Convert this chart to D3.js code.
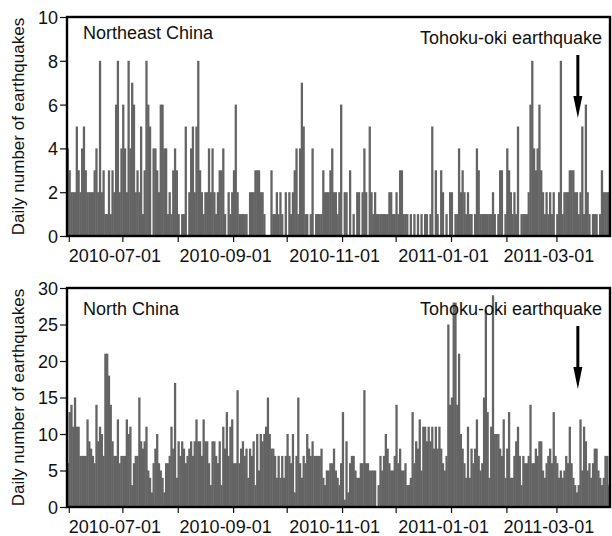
<!DOCTYPE html>
<html>
<head>
<meta charset="utf-8">
<script src="https://cdn.jsdelivr.net/npm/d3@7"></script>
<style>
body { margin: 0; background: #fff; }
text { font-family: "Liberation Sans", Arial, sans-serif; fill: #111; }
</style>
</head>
<body>
<svg id="chart" width="612" height="536"></svg>
<script>
// first day of the daily series, one value per day
var startDate = new Date(2010, 4, 31);
var endDate = new Date(2011, 2, 31);
var quakeDate = new Date(2011, 2, 13);

var neTicks = [0, 2, 4, 6, 8, 10];
var nTicks = [0, 5, 10, 15, 20, 25, 30];

var neChina = [
    4,3,2,2,2,5,3,2,4,5, 3,2,2,2,2,3,4,2,8,2, 3,1,1,3,1,3,2,6,8,2,
    4,6,4,2,8,4,7,6,2,3, 2,5,1,3,8,6,5,0,4,4, 3,2,6,6,4,4,1,2,1,3,
    4,3,1,0,1,1,5,0,2,4, 5,2,5,8,3,2,1,2,2,4, 2,4,2,1,2,3,3,4,1,0,
    2,1,2,3,6,2,1,1,1,1, 1,0,2,2,2,3,3,3,2,2, 1,0,0,0,3,1,1,2,1,2,
    1,0,2,0,2,1,2,3,4,1, 4,7,5,1,1,0,1,4,0,1, 1,1,1,3,2,2,2,3,4,2,
    2,1,2,6,0,2,2,0,3,0, 1,0,2,2,0,2,4,2,0,5, 2,1,2,1,1,1,1,1,1,1,
    2,2,1,1,2,1,3,3,1,1, 1,0,1,0,1,0,1,0,1,0, 1,1,0,1,5,0,3,1,0,3,
    2,0,1,0,2,2,0,1,1,4, 2,3,2,1,2,1,1,0,1,4, 3,1,1,1,1,1,1,1,2,1,
    0,1,3,3,0,1,4,3,2,1, 2,1,5,0,1,1,1,1,2,6, 8,4,3,4,6,3,2,1,2,1,
    2,1,2,0,1,2,8,1,2,2, 2,3,3,3,2,2,1,2,5,1, 6,2,1,0,1,1,1,0,1,3,
    2,2,2,2
];

var nChina = [
    6,13,14,11,15,11,11,7,7,7, 7,12,9,8,7,6,14,9,11,10, 7,21,21,18,14,9,7,7,12,6,
    7,7,7,12,10,11,3,6,7,7, 15,9,8,9,11,5,4,2,6,8, 10,6,5,4,2,6,6,7,11,8,
    17,4,9,7,9,8,6,7,8,9, 7,9,12,9,9,7,12,9,9,6, 3,9,9,7,6,9,3,11,8,13,
    7,11,12,6,6,16,6,8,9,7, 8,4,8,7,9,3,10,5,10,9, 10,11,15,10,8,8,7,4,7,4,
    7,4,7,10,7,6,10,2,7,15, 6,4,7,6,10,8,7,9,7,7, 7,7,8,4,3,5,5,6,6,8,
    5,4,3,6,13,1,9,2,6,7, 7,5,4,4,6,6,16,6,6,5, 5,5,5,0,3,7,5,7,10,8,
    6,5,5,7,14,6,8,5,5,6, 3,3,4,13,6,9,8,12,5,11, 11,9,11,9,11,8,11,8,11,8,
    6,5,7,25,14,15,28,28,14,21, 10,8,6,4,11,4,8,6,8,12, 7,5,6,15,27,13,4,11,29,10,
    10,10,8,7,12,4,8,13,4,4, 7,9,11,7,3,7,6,6,7,14, 6,6,8,7,9,9,5,4,6,7,
    8,6,13,7,6,4,5,4,5,7, 6,11,6,4,3,2,3,12,5,11, 9,5,6,4,6,8,8,5,4,3,
    4,7,7,3
];

var svg = d3.select("#chart");
var left = 67, right = 610, plotH = 219;
var fmt = d3.timeFormat("%Y-%m-%d");

var x = d3.scaleTime().domain([startDate, endDate]).range([left, right]);

var panels = [
    { title: "Northeast China", values: neChina, ticks: neTicks, top: 17, titleY: 22, quakeY: 27 },
    { title: "North China", values: nChina, ticks: nTicks, top: 288, titleY: 27, quakeY: 27 }
];

panels.forEach(function(p, k) {
    var y = d3.scaleLinear()
        .domain([0, p.ticks[p.ticks.length - 1]])
        .range([p.top + plotH, p.top]);

    var days = p.values.map(function(v, i) {
        return { date: d3.timeDay.offset(startDate, i), value: v };
    });

    svg.append("clipPath").attr("id", "clip" + k)
        .append("rect")
        .attr("x", left).attr("y", p.top)
        .attr("width", right - left).attr("height", plotH);

    // bars overlap a little so neighbouring days don't leave seams
    svg.append("g")
        .attr("clip-path", "url(#clip" + k + ")")
        .selectAll("rect")
        .data(days)
        .enter().append("rect")
        .attr("x", function(d) { return x(d.date) - 0.25; })
        .attr("width", function(d) { return x(d3.timeDay.offset(d.date, 1)) - x(d.date) + 0.5; })
        .attr("y", function(d) { return y(d.value); })
        .attr("height", function(d) { return y(0) - y(d.value); })
        .attr("fill", "#646464");

    // y axis
    var yAxis = svg.append("g")
        .attr("transform", "translate(" + left + ",0)")
        .call(d3.axisLeft(y).tickValues(p.ticks).tickSize(7).tickPadding(2));
    yAxis.select(".domain").remove();
    yAxis.selectAll("line").attr("stroke", "#111").attr("stroke-width", 1.2);
    yAxis.selectAll("text").attr("font-size", "18px").attr("dy", "0.36em");

    // x axis, a tick each month, a label every other month
    var xAxis = svg.append("g")
        .attr("transform", "translate(0," + (p.top + plotH) + ")")
        .call(d3.axisBottom(x)
            .ticks(d3.timeMonth.every(1))
            .tickSize(6)
            .tickPadding(7)
            .tickFormat(function(d) { return d.getMonth() % 2 === 0 ? fmt(d) : ""; }));
    xAxis.select(".domain").remove();
    xAxis.selectAll("line").attr("stroke", "#111").attr("stroke-width", 1.2);
    xAxis.selectAll("text").attr("font-size", "18px").attr("dx", -8);

    svg.append("rect")
        .attr("x", left).attr("y", p.top)
        .attr("width", right - left).attr("height", plotH)
        .attr("fill", "none").attr("stroke", "#000").attr("stroke-width", 2.4);

    svg.append("text")
        .attr("transform", "translate(24," + (p.top + plotH / 2) + ") rotate(-90)")
        .attr("text-anchor", "middle")
        .attr("font-size", "17px")
        .text("Daily number of earthquakes");

    svg.append("text")
        .attr("x", left + 16).attr("y", p.top + p.titleY)
        .attr("font-size", "18px")
        .text(p.title);

    svg.append("text")
        .attr("x", right - 8).attr("y", p.top + p.quakeY)
        .attr("text-anchor", "end")
        .attr("font-size", "18px")
        .text("Tohoku-oki earthquake");

    // arrow pointing at the Tohoku-oki date
    var ax = x(quakeDate);
    var y0 = p.top + 38, y1 = p.top + 101;
    svg.append("line")
        .attr("x1", ax).attr("x2", ax)
        .attr("y1", y0).attr("y2", y1 - 18)
        .attr("stroke", "#000").attr("stroke-width", 3);
    svg.append("path")
        .attr("d", "M" + (ax - 4.5) + "," + (y1 - 22) + " L" + ax + "," + y1 + " L" + (ax + 4.5) + "," + (y1 - 22) + " Z")
        .attr("fill", "#000");
});
</script>
</body>
</html>
